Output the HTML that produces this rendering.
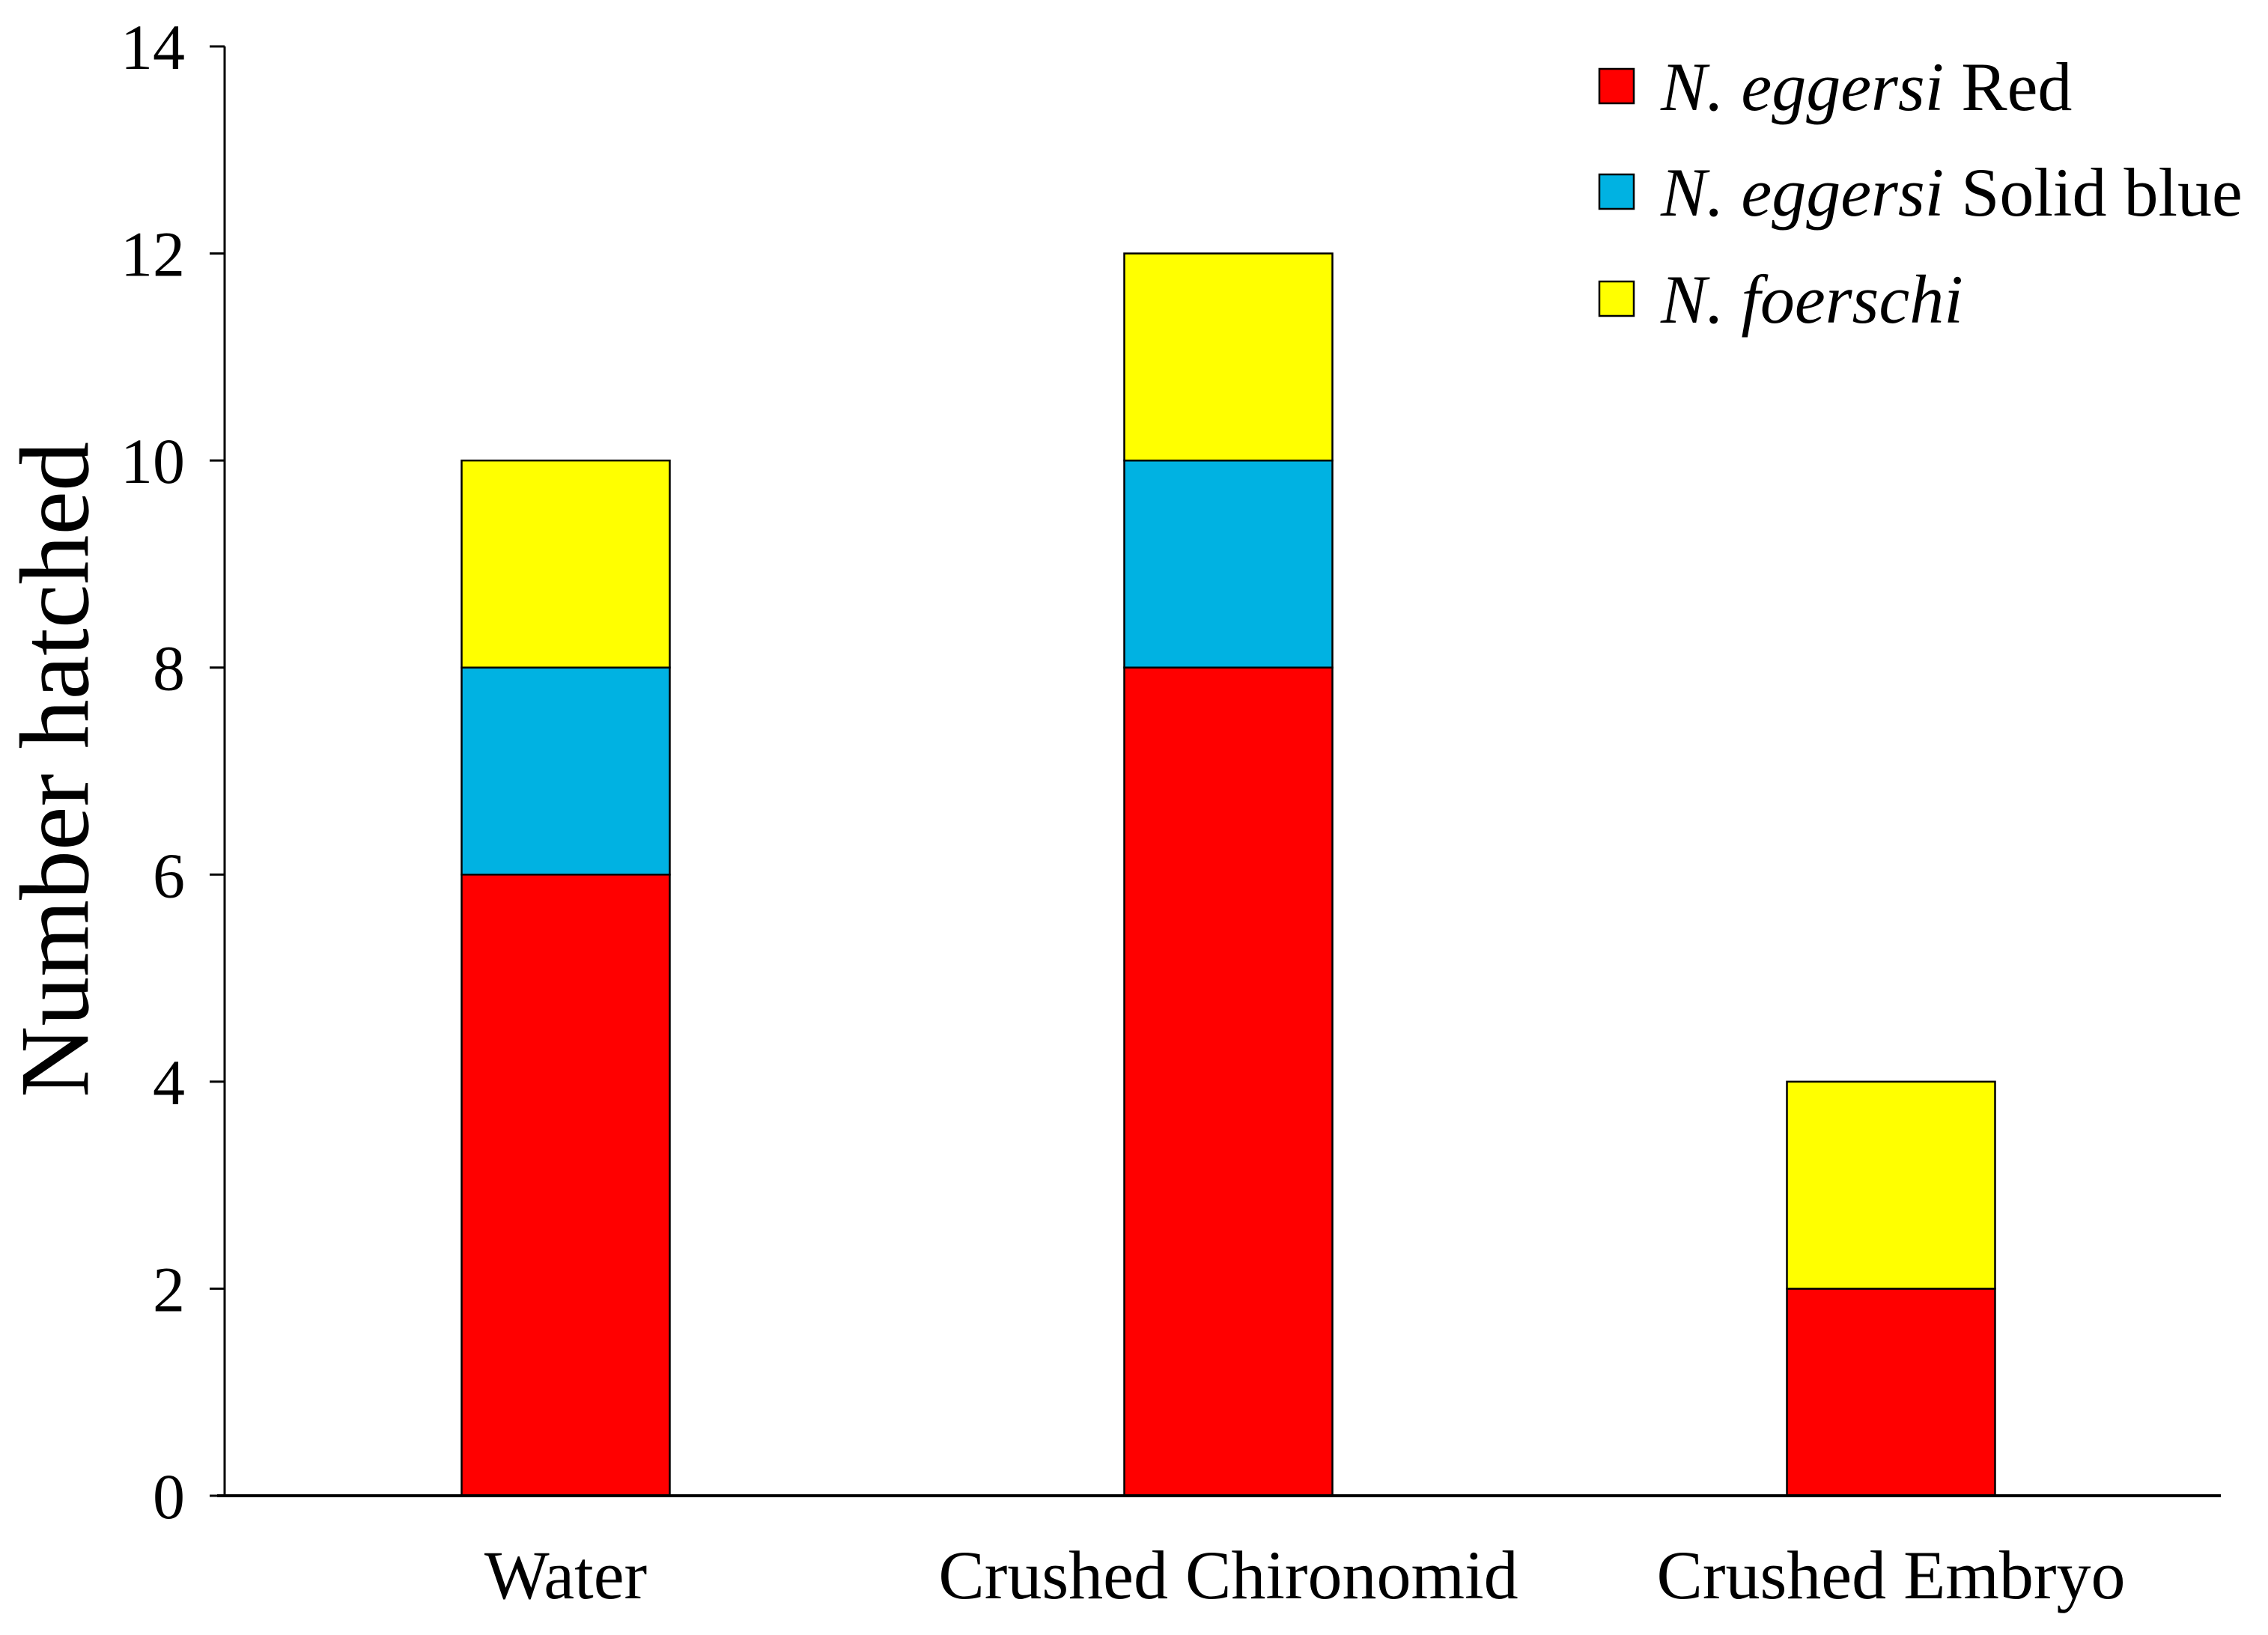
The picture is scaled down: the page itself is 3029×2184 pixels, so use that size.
<!DOCTYPE html>
<html><head><meta charset="utf-8"><style>
html,body{margin:0;padding:0;background:#fff;}
svg{display:block;}
text{font-family:"Liberation Serif",serif;fill:#000;}
</style></head><body>
<svg id="chart" width="3029" height="2184" viewBox="0 0 3029 2184">
<rect width="3029" height="2184" fill="#fff"/>
<g id="bars"></g>
<g id="axes"></g>
<text x="87" y="1028" font-size="132" text-anchor="middle" dominant-baseline="middle" transform="rotate(-90 87 1028)">Number hatched</text>
<g id="legend"></g>
</svg>
<script>
const categories = ["Water", "Crushed Chironomid", "Crushed Embryo"];
const redValues = [6, 8, 2];
const blueValues = [2, 2, 0];
const yellowValues = [2, 2, 2];
const yTicks = [0, 2, 4, 6, 8, 10, 12, 14];
const seriesNames = ["N. eggersi Red", "N. eggersi Solid blue", "N. foerschi"];

const NS = "http://www.w3.org/2000/svg";
const plot = {x0: 300, x1: 2966, y0: 1998, y1: 62};
const yMax = 14;
const yScale = v => plot.y0 - v / yMax * (plot.y0 - plot.y1);
const bandStart = 300, bandW = 885, barW = 278;
const xCenter = i => bandStart + bandW * (i + 0.5) + 13;
const colors = ["#ff0000", "#00b2e2", "#ffff00"];

function mk(tag, attrs, parent) {
  const el = document.createElementNS(NS, tag);
  for (const k in attrs) el.setAttribute(k, attrs[k]);
  parent.appendChild(el);
  return el;
}
const barsG = document.getElementById('bars');
const series = [redValues, blueValues, yellowValues];
categories.forEach((c, i) => {
  let base = 0;
  series.forEach((vals, s) => {
    const v = vals[i];
    if (v > 0) {
      const r = mk('rect', {x: xCenter(i) - barW / 2, y: yScale(base + v), width: barW, height: yScale(base) - yScale(base + v), fill: colors[s], stroke: '#000', 'stroke-width': 2.5}, barsG);
      
      
    }
    base += v;
  });
  const t = mk('text', {x: xCenter(i), y: 2135, 'font-size': 92, 'text-anchor': 'middle'}, barsG);
  t.textContent = c;
  
  
});

const axesG = document.getElementById('axes');
const yl = mk('line', {x1: plot.x0, y1: plot.y1, x2: plot.x0, y2: plot.y0, stroke: '#000', 'stroke-width': 3}, axesG);


const xl = mk('line', {x1: plot.x0 - 10, y1: plot.y0, x2: plot.x1, y2: plot.y0, stroke: '#000', 'stroke-width': 4}, axesG);


yTicks.forEach(v => {
  const tk = mk('line', {x1: plot.x0 - 20, y1: yScale(v), x2: plot.x0, y2: yScale(v), stroke: '#000', 'stroke-width': 3}, axesG);
  
  
  const t = mk('text', {x: 247, y: yScale(v) + 30, 'font-size': 86, 'text-anchor': 'end'}, axesG);
  t.textContent = v;
  
  
});

const legG = document.getElementById('legend');
const legY = [116, 257, 400];
seriesNames.forEach((n, s) => {
  const sq = mk('rect', {x: 2136, y: legY[s] - 24, width: 46, height: 46, fill: colors[s], stroke: '#000', 'stroke-width': 2.5}, legG);
  
  
  const t = mk('text', {x: 2218, y: legY[s] + 31, 'font-size': 92}, legG);
  
  
  const parts = n.split(' ');
  const it = mk('tspan', {'font-style': 'italic'}, t);
  it.textContent = parts[0] + ' ' + parts[1];
  if (parts.length > 2) {
    const rest = mk('tspan', {}, t);
    rest.textContent = ' ' + parts.slice(2).join(' ');
  }
});
</script>
</body></html>
